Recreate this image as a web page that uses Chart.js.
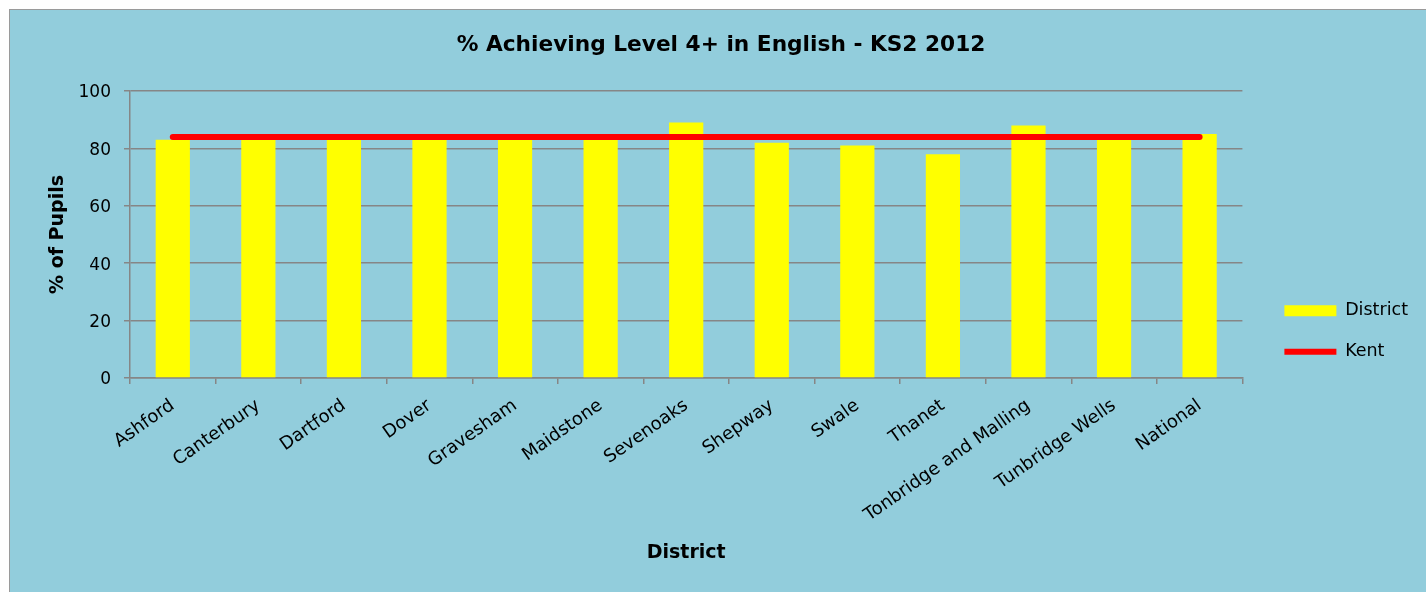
<!DOCTYPE html>
<html>
<head>
<meta charset="utf-8">
<script src="https://cdn.jsdelivr.net/npm/chart.js@4/dist/chart.umd.min.js"></script>
<style>
  body { margin: 0; background: #fff; }
  .frame {
    position: absolute; left: 9px; top: 9px; width: 1430px; height: 600px;
    background: #92cddc; border: 1px solid #9a9a9a;
  }
  .wrap { position: absolute; left: 0; top: 0; width: 1426px; height: 592px; }
</style>
</head>
<body>
<div class="frame"></div>
<div class="wrap"><canvas id="ks2-chart" width="1426" height="592"></canvas></div>
<script>
const districts = ['Ashford', 'Canterbury', 'Dartford', 'Dover', 'Gravesham', 'Maidstone', 'Sevenoaks',
  'Shepway', 'Swale', 'Thanet', 'Tonbridge and Malling', 'Tunbridge Wells', 'National'];
const districtScores = [83, 83, 83, 85, 83, 83, 89, 82, 81, 78, 88, 85, 85];
const kentScores = [84, 84, 84, 84, 84, 84, 84, 84, 84, 84, 84, 84, 84];
const yTicks = [0, 20, 40, 60, 80, 100];

const gridGrey = '#868686';
const font = 'DejaVu Sans';

// push the legend down a little from the bottom of the plot
const legendNudge = {
  id: 'legendNudge',
  afterLayout: function(chart) {
    chart.legend.top += 6
    chart.legend.bottom += 6
  }
};

new Chart(document.getElementById('ks2-chart'), {
  type: 'bar',
  data: {
    labels: districts,
    datasets: [
      {
        type: 'line',
        label: 'Kent',
        data: kentScores,
        borderColor: '#ff0000',
        backgroundColor: '#ff0000',
        borderWidth: 6,
        borderCapStyle: 'round',
        pointRadius: 0,
        pointStyle: 'line',
        fill: false
      },
      {
        label: 'District',
        data: districtScores,
        backgroundColor: '#ffff00',
        pointStyle: 'rect',
        barPercentage: 0.4,
        categoryPercentage: 1
      }
    ]
  },
  plugins: [legendNudge],
  options: {
    responsive: false,
    animation: false,
    devicePixelRatio: 1,
    layout: { padding: { left: 24, right: 8, top: 0, bottom: 0 } },
    plugins: {
      title: {
        display: true,
        text: '% Achieving Level 4+ in English - KS2 2012',
        color: '#000',
        font: { family: font, size: 21.7, weight: 'bold' },
        padding: { top: 32, bottom: 33 }
      },
      legend: {
        position: 'right',
        fullSize: false,
        align: 'end',
        reverse: true,
        labels: {
          usePointStyle: true,
          pointStyleWidth: 52,
          boxHeight: 11,
          padding: 23.5,
          color: '#000',
          font: { family: font, size: 17.5 }
        }
      },
      tooltip: { enabled: false }
    },
    scales: {
      x: {
        grid: { display: true, drawOnChartArea: false, drawTicks: true, tickLength: 6, color: gridGrey, lineWidth: 1.5 },
        border: { display: true, color: gridGrey, width: 1.5 },
        ticks: { color: '#000', font: { family: font, size: 18 }, minRotation: 35, maxRotation: 35, padding: 11 },
        title: { display: true, text: 'District', color: '#000', font: { family: font, size: 19, weight: 'bold' }, padding: { top: 0, bottom: 28 } },
        afterFit: function(s) { s.height = 214 }
      },
      y: {
        min: 0,
        max: 100,
        afterBuildTicks: function(s) { s.ticks = yTicks.map(function(v){ return { value: v } }) },
        grid: { color: gridGrey, lineWidth: 1.5, tickLength: 6 },
        border: { display: true, color: gridGrey, width: 1.5 },
        ticks: { color: '#000', font: { family: font, size: 17 }, padding: 13, labelOffset: 2 },
        title: { display: true, text: '% of Pupils', color: '#000', font: { family: font, size: 19, weight: 'bold' }, padding: { top: 23, bottom: 0 } },
        afterFit: function(s) { s.width = 106 }
      },
      // spacer between plot and legend
      gap: {
        type: 'linear',
        position: 'right',
        display: true,
        grid: { display: false },
        border: { display: false },
        ticks: { display: false },
        afterFit: function(s) { s.width = 18.5 }
      }
    }
  }
});
</script>
</body>
</html>
